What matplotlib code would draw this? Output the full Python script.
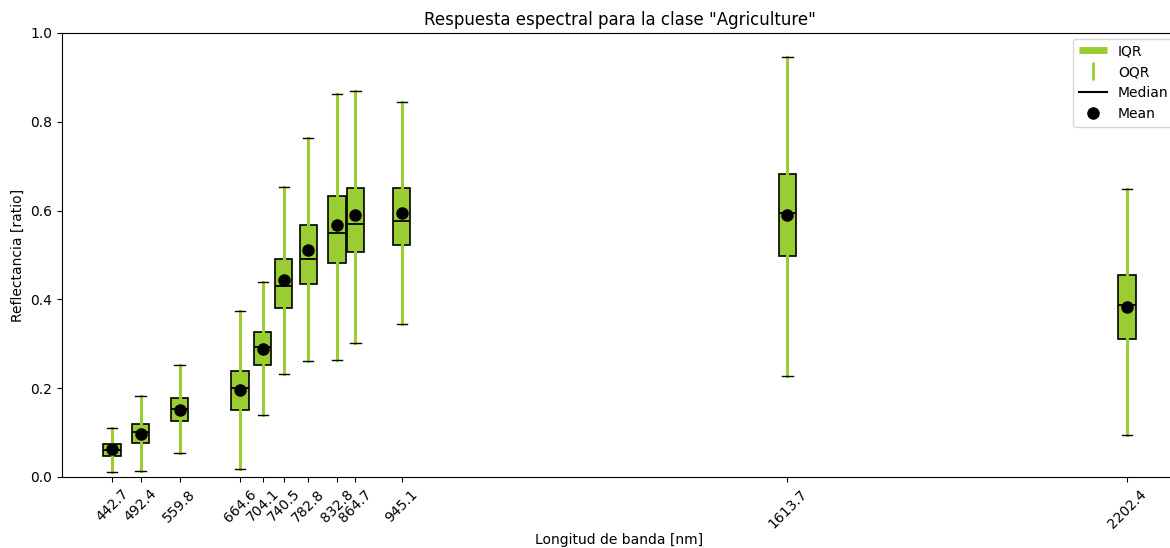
import matplotlib
matplotlib.use("Agg")
import matplotlib.pyplot as plt
from matplotlib.lines import Line2D

# Data
bands = [442.7, 492.4, 559.8, 664.6, 704.1, 740.5, 782.8, 832.8, 864.7, 945.1, 1613.7, 2202.4]
tick_labels = ["442.7", "492.4", "559.8", "664.6", "704.1", "740.5", "782.8",
               "832.8", "864.7", "945.1", "1613.7", "2202.4"]
q1 = [0.048, 0.076, 0.126, 0.150, 0.252, 0.381, 0.435, 0.482, 0.506, 0.522, 0.498, 0.311]
q3 = [0.074, 0.119, 0.177, 0.239, 0.326, 0.490, 0.567, 0.634, 0.652, 0.652, 0.682, 0.455]
med = [0.061, 0.101, 0.153, 0.201, 0.293, 0.431, 0.492, 0.550, 0.570, 0.577, 0.594, 0.387]
mean = [0.062, 0.097, 0.151, 0.197, 0.288, 0.444, 0.511, 0.567, 0.589, 0.595, 0.589, 0.382]
whislo = [0.012, 0.014, 0.053, 0.019, 0.140, 0.231, 0.261, 0.264, 0.302, 0.344, 0.227, 0.095]
whishi = [0.110, 0.182, 0.252, 0.374, 0.439, 0.653, 0.764, 0.862, 0.870, 0.845, 0.947, 0.648]

green = "yellowgreen"

stats = []
for i in range(len(bands)):
    stats.append(dict(q1=q1[i], q3=q3[i], med=med[i], mean=mean[i],
                      whislo=whislo[i], whishi=whishi[i], fliers=[]))

fig = plt.figure(figsize=(11.7, 5.48), dpi=100)
ax = fig.add_axes([62 / 1170, 1 - 477 / 548, (1177 - 62) / 1170, (477 - 33) / 548])

ax.bxp(stats, positions=bands, widths=30, capwidths=18, patch_artist=True,
       showmeans=True, showfliers=False, manage_ticks=False,
       boxprops=dict(facecolor=green, edgecolor="black", linewidth=1.2),
       whiskerprops=dict(color=green, linewidth=2.2),
       capprops=dict(color="black", linewidth=1.0),
       medianprops=dict(color="black", linewidth=1.3),
       meanprops=dict(marker="o", markerfacecolor="black", markeredgecolor="black",
                      markersize=8, linestyle="None"))

ax.set_xlim(356.0, 2289.1)
ax.set_ylim(0.0, 1.0)
ax.set_xticks(bands)
ax.set_xticklabels(tick_labels, rotation=45)
ax.set_xlabel("Longitud de banda [nm]", labelpad=1.5)
ax.set_ylabel("Reflectancia [ratio]")
ax.set_title('Respuesta espectral para la clase "Agriculture"')

handles = [
    Line2D([], [], color=green, linewidth=5, solid_capstyle="butt", label="IQR"),
    Line2D([], [], color=green, marker="|", linestyle="None", markersize=13,
           markeredgewidth=2, label="OQR"),
    Line2D([], [], color="black", linewidth=1.5, label="Median"),
    Line2D([], [], color="black", marker="o", linestyle="None", markersize=8, label="Mean"),
]
ax.legend(handles=handles, loc="upper right", bbox_to_anchor=(1.0036, 1.003))

fig.savefig("out.png", dpi=100)
